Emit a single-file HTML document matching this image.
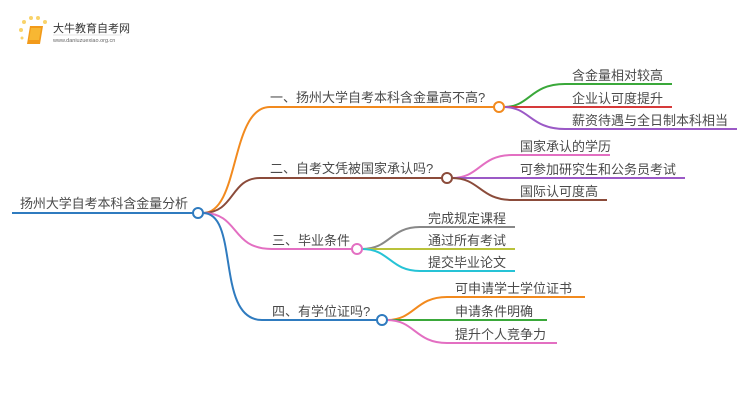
<!DOCTYPE html>
<html><head><meta charset="utf-8"><style>
body{margin:0;background:#fff;}
svg text{font-family:"Liberation Sans","Noto Sans CJK SC",sans-serif;fill:#4a4a4a;}
</style></head><body>
<svg width="750" height="410" xmlns="http://www.w3.org/2000/svg">
<g>
<circle cx="24" cy="22" r="2" fill="#f9d36a"/><circle cx="31" cy="18" r="2" fill="#f9d36a"/><circle cx="38" cy="18" r="2" fill="#f9d36a"/><circle cx="45" cy="22" r="2" fill="#f9d36a"/><circle cx="21" cy="30" r="2" fill="#f9d36a"/><circle cx="22" cy="38" r="1.5" fill="#f9d36a"/>
<path d="M30 26 L43 26 L40 44 L27 44 Z" fill="#f29a1a"/>
<path d="M31 28 L41 28 L39 40 L29 40 Z" fill="#f7b733"/>
<text x="53" y="32" font-size="11" style="fill:#333">大牛教育自考网</text>
<line x1="53" y1="35" x2="122" y2="35" stroke="#ccc" stroke-width="0.6"/>
<text x="53" y="42" font-size="5.5" style="fill:#666">www.daniuzuexiao.org.cn</text>
</g>
<g fill="none" stroke-width="2">
<path d="M12 213 H193" stroke="#2f7bbf"/>
<path d="M203 213 C240 213,230 107,270 107 H494" stroke="#f28a1e"/>
<path d="M203 213 C235 213,230 178,260 178 H442" stroke="#8b4b3a"/>
<path d="M203 213 C240 213,230 249,272 249 H352" stroke="#e36fc2"/>
<path d="M203 213 C240 213,215 320,262 320 H377" stroke="#2f7bbf"/>
<path d="M504 107 C530 107,530 84,565 84 H672" stroke="#3aa83a"/>
<path d="M504 107 H672" stroke="#d63a3a"/>
<path d="M504 107 C530 107,530 129,565 129 H737" stroke="#9b59c6"/>
<path d="M452 178 C480 178,480 155,512 155 H610" stroke="#e36fc2"/>
<path d="M452 178 H685" stroke="#9b59c6"/>
<path d="M452 178 C480 178,480 200,512 200 H607" stroke="#8b4b3a"/>
<path d="M362 249 C390 249,390 227,420 227 H515" stroke="#888"/>
<path d="M362 249 H515" stroke="#b9c23a"/>
<path d="M362 249 C390 249,390 271,420 271 H515" stroke="#26c3d6"/>
<path d="M387 320 C415 320,415 297,447 297 H585" stroke="#f28a1e"/>
<path d="M387 320 H547" stroke="#3aa83a"/>
<path d="M387 320 C415 320,415 343,447 343 H557" stroke="#e36fc2"/>
<circle cx="198" cy="213" r="5" fill="#fff" stroke="#2f7bbf"/>
<circle cx="499" cy="107" r="5" fill="#fff" stroke="#f28a1e"/>
<circle cx="447" cy="178" r="5" fill="#fff" stroke="#8b4b3a"/>
<circle cx="357" cy="249" r="5" fill="#fff" stroke="#e36fc2"/>
<circle cx="382" cy="320" r="5" fill="#fff" stroke="#2f7bbf"/>
</g>
<g font-size="13">
<text x="20" y="208" textLength="168">扬州大学自考本科含金量分析</text>
<text x="270" y="102">一、扬州大学自考本科含金量高不高?</text>
<text x="270" y="173">二、自考文凭被国家承认吗?</text>
<text x="272" y="245">三、毕业条件</text>
<text x="272" y="316">四、有学位证吗?</text>
<text x="572" y="80">含金量相对较高</text>
<text x="572" y="103">企业认可度提升</text>
<text x="572" y="125">薪资待遇与全日制本科相当</text>
<text x="520" y="151">国家承认的学历</text>
<text x="520" y="174">可参加研究生和公务员考试</text>
<text x="520" y="196">国际认可度高</text>
<text x="428" y="223">完成规定课程</text>
<text x="428" y="245">通过所有考试</text>
<text x="428" y="267">提交毕业论文</text>
<text x="455" y="293">可申请学士学位证书</text>
<text x="455" y="316">申请条件明确</text>
<text x="455" y="339">提升个人竞争力</text>
</g>
</svg>
</body></html>
